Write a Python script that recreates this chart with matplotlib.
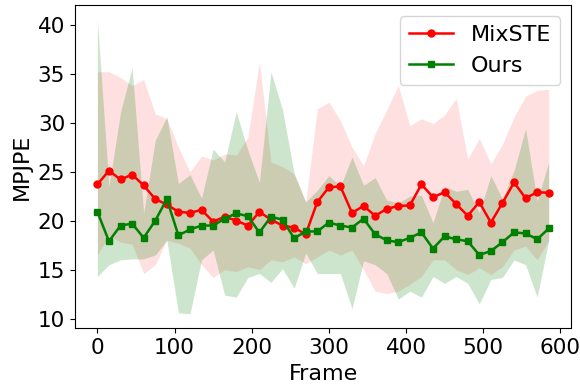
import matplotlib
matplotlib.use('Agg')
import matplotlib.pyplot as plt
import numpy as np

# frames sampled every 15
frames = np.arange(0, 600, 15)

mixste_mean = [23.7, 25.1, 24.2, 24.7, 23.6, 22.2, 21.65, 20.9, 20.8, 21.1,
               19.9, 20.4, 20.0, 19.5, 20.9, 20.1, 19.5, 19.3, 18.6, 21.9,
               23.4, 23.5, 20.8, 21.5, 20.5, 21.2, 21.5, 21.55, 23.7, 22.4,
               22.9, 21.7, 20.5, 21.9, 19.8, 21.8, 23.9, 22.3, 22.9, 22.85]
mixste_upper = [35.2, 35.2, 34.6, 33.8, 34.4, 30.9, 30.4, 27.5, 25.0, 26.6,
                26.2, 26.8, 26.7, 28.5, 36.2, 26.0, 25.5, 24.8, 21.9, 31.4,
                32.1, 30.2, 27.5, 25.6, 28.9, 31.3, 33.8, 29.7, 30.4, 29.9,
                30.8, 32.5, 26.3, 28.4, 25.8, 27.8, 30.6, 32.7, 33.3, 33.4]
mixste_lower = [16.5, 18.5, 17.8, 17.6, 14.6, 15.5, 18.0, 17.7, 17.2, 15.5,
                14.2, 15.0, 14.8, 15.3, 15.0, 16.0, 15.8, 16.3, 15.6, 16.3,
                17.0, 16.5, 17.0, 15.0, 12.8, 12.55, 12.8, 13.5, 14.3, 16.0,
                16.0, 15.0, 14.5, 15.2, 14.5, 15.3, 17.0, 17.4, 16.0, 18.0]

ours_mean = [20.9, 17.9, 19.5, 19.7, 18.25, 20.0, 22.2, 18.5, 19.1, 19.5,
             19.5, 20.2, 20.75, 20.45, 18.8, 20.4, 20.1, 18.2, 18.9, 18.9,
             19.8, 19.5, 19.3, 20.2, 18.6, 18.0, 17.8, 18.25, 18.8, 17.15,
             18.4, 18.1, 17.9, 16.5, 16.9, 17.8, 18.8, 18.7, 18.1, 19.2]
ours_upper = [40.5, 23.5, 31.1, 35.6, 20.8, 28.2, 30.6, 23.8, 24.7, 22.3,
              27.3, 26.0, 31.1, 27.2, 23.9, 35.2, 31.3, 24.8, 21.9, 23.1,
              24.6, 23.5, 26.5, 23.6, 24.4, 22.1, 21.8, 22.5, 22.6, 19.8,
              23.5, 23.0, 23.2, 20.8, 24.6, 22.2, 25.1, 29.4, 22.0, 26.0]
ours_lower = [14.3, 15.5, 16.0, 16.1, 16.1, 16.5, 18.0, 10.6, 10.5, 16.0,
              17.0, 12.4, 12.2, 14.2, 14.6, 13.7, 15.1, 13.1, 16.7, 14.6,
              14.6, 14.6, 11.0, 15.9, 15.5, 14.6, 12.0, 12.8, 12.2, 14.3,
              13.6, 14.3, 13.6, 11.5, 14.0, 14.2, 16.0, 15.5, 12.2, 18.0]

plt.figure(figsize=(5.8, 3.91), dpi=100)
plt.fill_between(frames, mixste_lower, mixste_upper, color='red', alpha=0.12, linewidth=0)
plt.fill_between(frames, ours_lower, ours_upper, color='green', alpha=0.2, linewidth=0)
plt.plot(frames, mixste_mean, color='red', marker='o', markersize=5, linewidth=1.8, label='MixSTE')
plt.plot(frames, ours_mean, color='green', marker='s', markersize=5, linewidth=1.8, label='Ours')

plt.xticks([0, 100, 200, 300, 400, 500, 600], fontsize=15.5)
plt.yticks([10, 15, 20, 25, 30, 35, 40], fontsize=15.5)
plt.xlabel('Frame', fontsize=16, labelpad=4)
plt.ylabel('MPJPE', fontsize=16)
plt.legend(loc='upper right', fontsize=16)

plt.subplots_adjust(left=0.129, right=0.985, top=0.987, bottom=0.16)
plt.savefig('out.png', dpi=100)
